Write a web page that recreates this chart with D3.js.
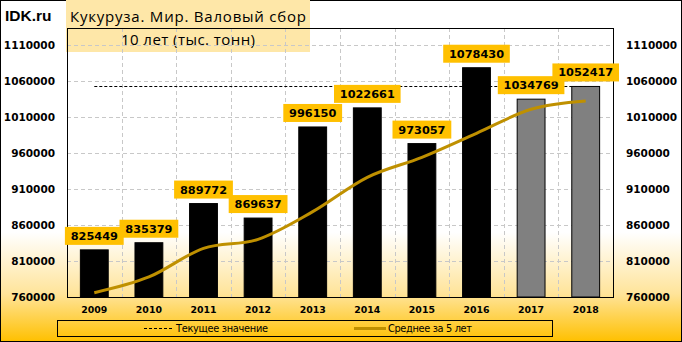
<!DOCTYPE html>
<html>
<head>
<meta charset="utf-8">
<script src="https://cdn.jsdelivr.net/npm/d3@7"></script>
<style>
  body { margin: 0; padding: 0; background: #fff; }
  svg { display: block; }
</style>
</head>
<body>
<div id="chart"></div>
<script>
// chart data
var years = ["2009", "2010", "2011", "2012", "2013", "2014", "2015", "2016", "2017", "2018"];
var harvest = [825449, 835379, 889772, 869637, 996150, 1022661, 973057, 1078430, 1034769, 1052417];
var avg5 = [766000, 787800, 827600, 840100, 878500, 926200, 954000, 987300, 1020700, 1032200];
var forecastYears = ["2017", "2018"];
var currentValue = 1052417;
var yTicks = [760000, 810000, 860000, 910000, 960000, 1010000, 1060000, 1110000];

var width = 682, height = 342;
var plot = {left: 67, right: 613, top: 28, bottom: 297};

var x = d3.scaleBand().domain(years).range([plot.left, plot.right])
    .paddingInner(0.49).paddingOuter(0.245);
var y = d3.scaleLinear().domain([760000, 1133600]).range([plot.bottom, plot.top]);

var svg = d3.select("#chart").append("svg")
    .attr("width", width)
    .attr("height", height);

// background gradient
var defs = svg.append("defs");
var grad = defs.append("linearGradient").attr("id", "bg")
    .attr("x1", 0).attr("y1", 0).attr("x2", 0).attr("y2", 1);
grad.append("stop").attr("offset", "0.68").attr("stop-color", "#ffffff");
grad.append("stop").attr("offset", "0.86").attr("stop-color", "#ffe49a");
grad.append("stop").attr("offset", "1").attr("stop-color", "#ffc000");

svg.append("rect")
    .attr("x", 0.5).attr("y", 0.5)
    .attr("width", width - 1).attr("height", height - 1)
    .attr("fill", "url(#bg)")
    .attr("stroke", "#000");

// title box
svg.append("rect")
    .attr("x", 66).attr("y", 0)
    .attr("width", 244).attr("height", 52)
    .attr("fill", "#fee7a8");

svg.append("text")
    .attr("x", 5).attr("y", 21)
    .style("font-family", "Liberation Sans, Arial")
    .style("font-weight", "bold")
    .style("font-size", "15.5px")
    .text("IDK.ru");

svg.append("text")
    .attr("x", 188).attr("y", 21.5)
    .attr("text-anchor", "middle")
    .style("font-family", "Open Sans, Noto Sans")
    .style("font-size", "15px")
    .attr("textLength", 236)
    .text("Кукуруза. Мир. Валовый сбор");

svg.append("text")
    .attr("x", 188).attr("y", 45)
    .attr("text-anchor", "middle")
    .style("font-family", "Open Sans, Noto Sans")
    .style("font-size", "15px")
    .attr("textLength", 134)
    .text("10 лет (тыс. тонн)");

var g = svg.append("g");

// horizontal grid
g.selectAll(".hgrid")
    .data(yTicks.slice(1))
    .enter().append("line")
    .attr("x1", plot.left).attr("x2", plot.right)
    .attr("y1", function(d) { return Math.round(y(d)) + 0.5; })
    .attr("y2", function(d) { return Math.round(y(d)) + 0.5; })
    .attr("stroke", "#c8c8c8")
    .attr("stroke-dasharray", "4,3");

// vertical grid at category boundaries
g.selectAll(".vgrid")
    .data(years.slice(0, -1))
    .enter().append("line")
    .attr("x1", function(d) { return Math.round(x(d) + x.bandwidth() / 2 + x.step() / 2) + 0.5; })
    .attr("x2", function(d) { return Math.round(x(d) + x.bandwidth() / 2 + x.step() / 2) + 0.5; })
    .attr("y1", plot.top).attr("y2", plot.bottom)
    .attr("stroke", "#c8c8c8")
    .attr("stroke-dasharray", "4,3");

// current value line
g.append("line")
    .attr("x1", x(years[0]) + x.bandwidth() / 2)
    .attr("x2", x(years[years.length - 1]) + x.bandwidth() / 2)
    .attr("y1", Math.round(y(currentValue)) + 0.5)
    .attr("y2", Math.round(y(currentValue)) + 0.5)
    .attr("stroke", "#000")
    .attr("stroke-dasharray", "3,2");

// bars
g.selectAll(".bar")
    .data(years)
    .enter().append("rect")
    .attr("x", function(d) { return x(d); })
    .attr("y", function(d, i) { return y(harvest[i]); })
    .attr("width", x.bandwidth())
    .attr("height", function(d, i) { return plot.bottom - y(harvest[i]); })
    .attr("fill", function(d) { return forecastYears.indexOf(d) >= 0 ? "#808080" : "#000"; })
    .attr("stroke", "#000")
    .attr("stroke-width", 1);

// plot frame
g.append("rect")
    .attr("x", plot.left + 0.5).attr("y", plot.top + 0.5)
    .attr("width", plot.right - plot.left).attr("height", plot.bottom - plot.top)
    .attr("fill", "none")
    .attr("stroke", "#000");

// 5 year average
var line = d3.line()
    .x(function(d, i) { return x(years[i]) + x.bandwidth() / 2; })
    .y(function(d) { return y(d); })
    .curve(d3.curveCatmullRom.alpha(0));

g.append("path")
    .datum(avg5)
    .attr("d", line)
    .attr("fill", "none")
    .attr("stroke", "#bf9000")
    .attr("stroke-width", 3);

// value labels
var labels = g.selectAll(".lbl")
    .data(years)
    .enter().append("g")
    .attr("transform", function(d, i) {
      return "translate(" + (x(d) + x.bandwidth() / 2) + "," + (y(harvest[i]) - 5) + ")";
    });

labels.append("rect")
    .attr("x", function(d, i) { return -(String(harvest[i]).length * 7.8 + 12) / 2; })
    .attr("y", -18)
    .attr("width", function(d, i) { return String(harvest[i]).length * 7.8 + 12; })
    .attr("height", 18)
    .attr("fill", "#ffc000");

labels.append("text")
    .attr("x", 0).attr("y", -5)
    .attr("text-anchor", "middle")
    .style("font-family", "DejaVu Sans")
    .style("font-weight", "bold")
    .style("font-size", "11.3px")
    .text(function(d, i) { return harvest[i]; });

// y axis labels, both sides
var axisFont = function(sel) {
  sel.style("font-family", "DejaVu Sans")
     .style("font-weight", "bold")
     .style("font-size", "10.5px");
};

svg.selectAll(".yl")
    .data(yTicks)
    .enter().append("text")
    .attr("x", 55)
    .attr("y", function(d) { return y(d); })
    .attr("dy", "0.36em")
    .attr("text-anchor", "end")
    .call(axisFont)
    .text(function(d) { return d; });

svg.selectAll(".yr")
    .data(yTicks)
    .enter().append("text")
    .attr("x", 626)
    .attr("y", function(d) { return y(d); })
    .attr("dy", "0.36em")
    .call(axisFont)
    .text(function(d) { return d; });

// x axis labels
svg.selectAll(".xl")
    .data(years)
    .enter().append("text")
    .attr("x", function(d) { return x(d) + x.bandwidth() / 2; })
    .attr("y", 313)
    .attr("text-anchor", "middle")
    .style("font-family", "DejaVu Sans")
    .style("font-weight", "bold")
    .style("font-size", "9.4px")
    .text(function(d) { return d; });

// legend
var legend = svg.append("g");
legend.append("rect")
    .attr("x", 57.5).attr("y", 320.5)
    .attr("width", 495).attr("height", 16)
    .attr("fill", "none")
    .attr("stroke", "#000");

legend.append("line")
    .attr("x1", 144).attr("x2", 172)
    .attr("y1", 328.5).attr("y2", 328.5)
    .attr("stroke", "#000")
    .attr("stroke-dasharray", "3,2");

legend.append("text")
    .attr("x", 176).attr("y", 332)
    .style("font-family", "DejaVu Sans")
    .style("font-size", "9.8px")
    .attr("textLength", 92)
    .text("Текущее значение");

legend.append("line")
    .attr("x1", 354).attr("x2", 386)
    .attr("y1", 328.5).attr("y2", 328.5)
    .attr("stroke", "#bf9000")
    .attr("stroke-width", 3);

legend.append("text")
    .attr("x", 388).attr("y", 332)
    .style("font-family", "DejaVu Sans")
    .style("font-size", "9.8px")
    .attr("textLength", 84)
    .text("Среднее за 5 лет");
</script>
</body>
</html>
